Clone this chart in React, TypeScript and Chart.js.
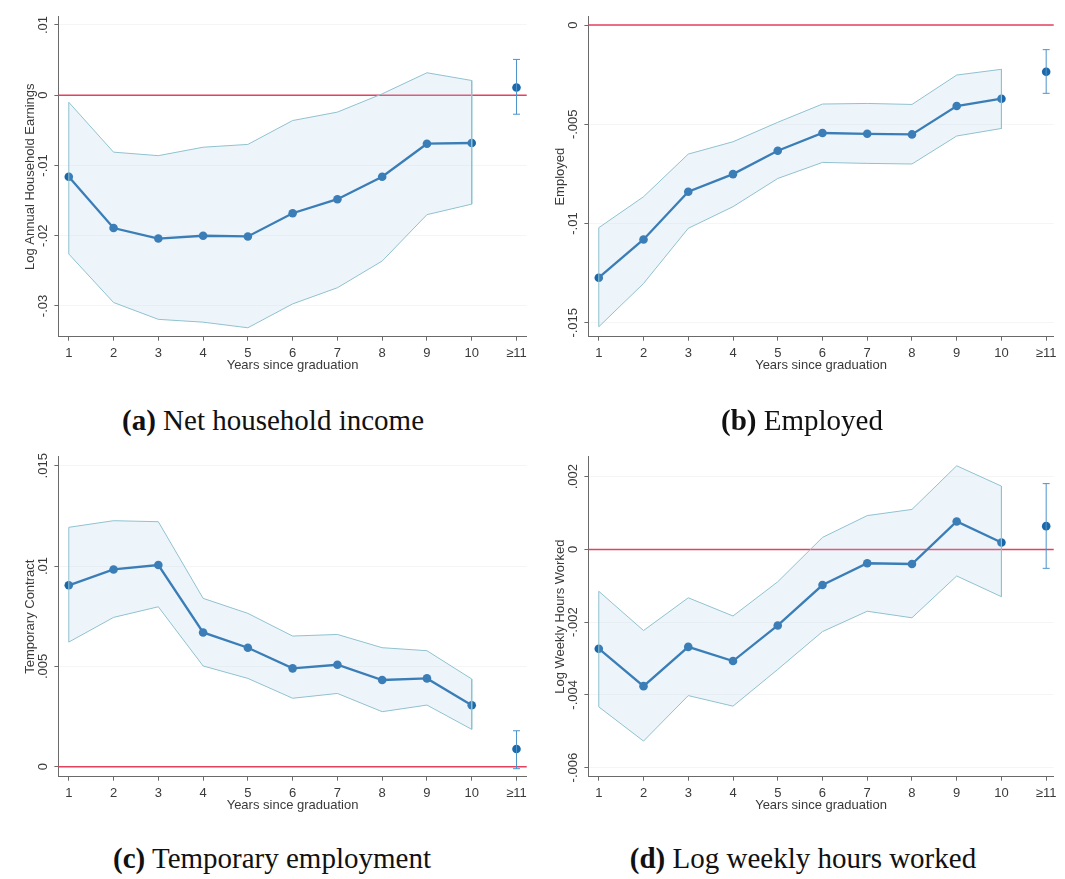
import React, { useEffect, useRef } from 'react';
import { Chart, registerables } from 'chart.js';

Chart.register(...registerables);

// ---------- shared axis data ----------
const years = [1, 2, 3, 4, 5, 6, 7, 8, 9, 10];
const pooledYear = 11;
const xTickValues = [1, 2, 3, 4, 5, 6, 7, 8, 9, 10, 11];
const xTickLabels = ['1', '2', '3', '4', '5', '6', '7', '8', '9', '10', '≥11'];
const xTitle = 'Years since graduation';

// ---------- (a) Net household income ----------
const incomeEst = [-0.0116, -0.0189, -0.0204, -0.0200, -0.0201, -0.0168, -0.0148, -0.0116, -0.0069, -0.0068];
const incomeHigh = [-0.0010, -0.0081, -0.0086, -0.0074, -0.0070, -0.0036, -0.0024, 0.0002, 0.0032, 0.0021];
const incomeLow = [-0.0226, -0.0295, -0.0319, -0.0323, -0.0331, -0.0297, -0.0274, -0.0236, -0.0170, -0.0155];
const incomePooled = [0.0011, -0.0027, 0.0051]; // estimate, low, high
const incomeYTicks = [0.01, 0, -0.01, -0.02, -0.03];
const incomeYTickLabels = ['.01', '0', '-.01', '-.02', '-.03'];

// ---------- (b) Employed ----------
const employedEst = [-0.01273, -0.0108, -0.0084, -0.00751, -0.00633, -0.00544, -0.00548, -0.00551, -0.00408, -0.00371];
const employedHigh = [-0.01021, -0.00865, -0.0065, -0.00588, -0.0049, -0.00398, -0.00395, -0.0040, -0.00252, -0.00223];
const employedLow = [-0.0152, -0.01302, -0.01024, -0.00915, -0.00773, -0.00692, -0.00697, -0.0070, -0.00559, -0.00521];
const employedPooled = [-0.00235, -0.00344, -0.00124];
const employedYTicks = [0, -0.005, -0.01, -0.015];
const employedYTickLabels = ['0', '-.005', '-.01', '-.015'];

// ---------- (c) Temporary employment ----------
const tempEst = [0.00904, 0.00983, 0.01005, 0.00669, 0.00593, 0.0049, 0.00508, 0.00432, 0.0044, 0.00306];
const tempHigh = [0.01193, 0.01226, 0.01221, 0.00839, 0.00764, 0.00651, 0.00659, 0.00593, 0.00578, 0.00437];
const tempLow = [0.00621, 0.00744, 0.00797, 0.00502, 0.0044, 0.00341, 0.00365, 0.00274, 0.00307, 0.00186];
const tempPooled = [0.00088, -0.0001, 0.00179];
const tempYTicks = [0, 0.005, 0.01, 0.015];
const tempYTickLabels = ['0', '.005', '.01', '.015'];

// ---------- (d) Log weekly hours worked ----------
const hoursEst = [-0.00273, -0.00376, -0.00268, -0.00307, -0.00209, -0.00098, -0.00038, -0.0004, 0.00077, 0.00019];
const hoursHigh = [-0.00115, -0.00223, -0.00133, -0.00183, -0.00089, 0.00033, 0.00093, 0.0011, 0.0023, 0.00174];
const hoursLow = [-0.00433, -0.00527, -0.00402, -0.00431, -0.0033, -0.00226, -0.0017, -0.00188, -0.00073, -0.0013];
const hoursPooled = [0.00064, -0.00052, 0.00181];
const hoursYTicks = [0.002, 0, -0.002, -0.004, -0.006];
const hoursYTickLabels = ['.002', '0', '-.002', '-.004', '-.006'];

// ---------- styles ----------
const BLUE = '#1b68aa';
const CI_BAR = '#4d93cc';
const BAND_LINE = '#8fc2cf';
const BAND_FILL = 'rgba(171,207,231,0.22)';
const RED = '#e4415f';
const AXIS = '#6a6a6a';
const TEXT = '#3a3a3a';
const SANS = '"Liberation Sans", Arial, Helvetica, sans-serif';

const CANVAS_W = 535;
const CANVAS_H = 380;

const stataPlugin = {
  id: 'stataAxes',
  beforeDatasetsDraw(chart: any) {
    const { ctx, chartArea } = chart;
    const y = chart.scales.y;
    const py = y.getPixelForValue(0);
    ctx.save();
    ctx.strokeStyle = RED;
    ctx.lineWidth = 1.5;
    ctx.beginPath();
    ctx.moveTo(chartArea.left, py);
    ctx.lineTo(chartArea.right, py);
    ctx.stroke();
    ctx.restore();
  },
  afterDraw(chart: any, _args: any, opts: any) {
    const { ctx, chartArea } = chart;
    const y = chart.scales.y;
    ctx.save();
    ctx.fillStyle = TEXT;
    ctx.font = `13px ${SANS}`;
    ctx.textAlign = 'center';
    ctx.textBaseline = 'middle';
    opts.yTicks.forEach((v: number, i: number) => {
      const py = y.getPixelForValue(v);
      ctx.save();
      ctx.translate(chartArea.left - 15.4, py);
      ctx.rotate(-Math.PI / 2);
      ctx.fillText(opts.yTickLabels[i], 0, 0);
      ctx.restore();
    });
    ctx.save();
    ctx.translate(chartArea.left - 27.7, (chartArea.top + chartArea.bottom) / 2);
    ctx.rotate(-Math.PI / 2);
    ctx.fillText(opts.yTitle, 0, 0);
    ctx.restore();
    ctx.fillText(opts.xTitle, (chartArea.left + chartArea.right) / 2, chartArea.bottom + 29);
    ctx.restore();
  },
};

type PanelCfg = {
  est: number[];
  low: number[];
  high: number[];
  pooled: number[];
  yTicks: number[];
  yTickLabels: string[];
  yTitle: string;
  yMin: number;
  yMax: number;
  xMax: number;
  padRight: number;
  left: number;
  top: number;
};

function Panel({ cfg }: { cfg: PanelCfg }) {
  const ref = useRef<HTMLCanvasElement | null>(null);
  useEffect(() => {
    if (!ref.current) return;
    const upper = years.map((x, i) => ({ x, y: cfg.high[i] }));
    const lower = years.map((x, i) => ({ x, y: cfg.low[i] })).reverse();
    const band = [...upper, ...lower, upper[0]];
    const chart = new Chart(ref.current, {
      type: 'line',
      data: {
        datasets: [
          {
            data: band,
            borderColor: BAND_LINE,
            borderWidth: 1,
            backgroundColor: BAND_FILL,
            fill: 'shape',
            pointRadius: 0,
            tension: 0,
          },
          {
            data: years.map((x, i) => ({ x, y: cfg.est[i] })),
            borderColor: BLUE,
            borderWidth: 2.3,
            pointRadius: 4.3,
            pointBackgroundColor: BLUE,
            pointBorderColor: BLUE,
            pointBorderWidth: 0,
            fill: false,
            tension: 0,
          },
          {
            data: [
              { x: pooledYear, y: cfg.pooled[1] },
              { x: pooledYear, y: cfg.pooled[2] },
            ],
            borderColor: CI_BAR,
            borderWidth: 1,
            pointStyle: 'line',
            pointRadius: 3.5,
            pointBorderColor: CI_BAR,
            pointBorderWidth: 1,
            fill: false,
          },
          {
            data: [{ x: pooledYear, y: cfg.pooled[0] }],
            showLine: false,
            pointRadius: 4.3,
            pointBackgroundColor: BLUE,
            pointBorderColor: BLUE,
            pointBorderWidth: 0,
            fill: false,
          },
        ],
      },
      options: {
        animation: false,
        responsive: false,
        events: [],
        layout: { padding: { top: 16.7, right: cfg.padRight, bottom: 0, left: 0 } },
        plugins: {
          legend: { display: false },
          tooltip: { enabled: false },
          stataAxes: {
            yTicks: cfg.yTicks,
            yTickLabels: cfg.yTickLabels,
            yTitle: cfg.yTitle,
            xTitle,
          },
        } as any,
        scales: {
          x: {
            type: 'linear',
            min: 0.768,
            max: cfg.xMax,
            afterBuildTicks: (s: any) => {
              s.ticks = xTickValues.map((v) => ({ value: v }));
            },
            afterFit: (s: any) => {
              s.height = CANVAS_H - 336.7;
            },
            ticks: {
              autoSkip: false,
              maxRotation: 0,
              minRotation: 0,
              padding: 4.8,
              color: TEXT,
              font: { size: 13, family: SANS },
              callback: (v: any) => {
                const i = xTickValues.indexOf(Number(v));
                return i >= 0 ? xTickLabels[i] : '';
              },
            },
            grid: { drawOnChartArea: false, drawTicks: true, tickLength: 4, tickColor: AXIS, color: AXIS },
            border: { display: true, color: AXIS, width: 1 },
          },
          y: {
            type: 'linear',
            min: cfg.yMin,
            max: cfg.yMax,
            afterBuildTicks: (s: any) => {
              s.ticks = cfg.yTicks.map((v) => ({ value: v }));
            },
            afterFit: (s: any) => {
              s.width = 58.4;
            },
            ticks: { display: false },
            grid: {
              drawOnChartArea: true,
              color: 'rgba(0,0,0,0.04)',
              drawTicks: true,
              tickLength: 4,
              tickColor: AXIS,
            },
            border: { display: true, color: AXIS, width: 1 },
          },
        },
      },
      plugins: [stataPlugin as any],
    } as any);
    return () => chart.destroy();
  }, [cfg]);
  return (
    <canvas
      ref={ref}
      width={CANVAS_W}
      height={CANVAS_H}
      style={{ position: 'absolute', left: cfg.left, top: cfg.top, width: CANVAS_W, height: CANVAS_H }}
    />
  );
}

const panels: PanelCfg[] = [
  {
    est: incomeEst, low: incomeLow, high: incomeHigh, pooled: incomePooled,
    yTicks: incomeYTicks, yTickLabels: incomeYTickLabels, yTitle: 'Log Annual Household Earnings',
    yMin: -0.03437, yMax: 0.01118, xMax: 11.228, padRight: 8.3, left: 0, top: 0,
  },
  {
    est: employedEst, low: employedLow, high: employedHigh, pooled: employedPooled,
    yTicks: employedYTicks, yTickLabels: employedYTickLabels, yTitle: 'Employed',
    yMin: -0.0157, yMax: 0.00042, xMax: 11.168, padRight: 11.3, left: 530, top: 0,
  },
  {
    est: tempEst, low: tempLow, high: tempHigh, pooled: tempPooled,
    yTicks: tempYTicks, yTickLabels: tempYTickLabels, yTitle: 'Temporary Contract',
    yMin: -0.0005, yMax: 0.01545, xMax: 11.228, padRight: 8.3, left: 0, top: 440,
  },
  {
    est: hoursEst, low: hoursLow, high: hoursHigh, pooled: hoursPooled,
    yTicks: hoursYTicks, yTickLabels: hoursYTickLabels, yTitle: 'Log Weekly Hours Worked',
    yMin: -0.00625, yMax: 0.00255, xMax: 11.168, padRight: 11.3, left: 530, top: 440,
  },
];

const captionLetters = ['(a)', '(b)', '(c)', '(d)'];
const captionTexts = ['Net household income', 'Employed', 'Temporary employment', 'Log weekly hours worked'];
const captionCenters = [
  [273, 420],
  [802, 420],
  [272, 858],
  [803, 858],
];

export default function App() {
  return (
    <div style={{ position: 'absolute', left: 0, top: 0, width: 1065, height: 879, background: '#fff', overflow: 'hidden' }}>
      {panels.map((p, i) => (
        <Panel key={i} cfg={p} />
      ))}
      {captionTexts.map((t, i) => (
        <div
          key={i}
          style={{
            position: 'absolute',
            left: captionCenters[i][0] - 250,
            top: captionCenters[i][1] - 17,
            width: 500,
            textAlign: 'center',
            fontFamily: '"Liberation Serif", "Times New Roman", serif',
            fontSize: 29,
            lineHeight: '34px',
            color: '#111',
            whiteSpace: 'nowrap',
          }}
        >
          <b>{captionLetters[i]}</b> {t}
        </div>
      ))}
    </div>
  );
}
